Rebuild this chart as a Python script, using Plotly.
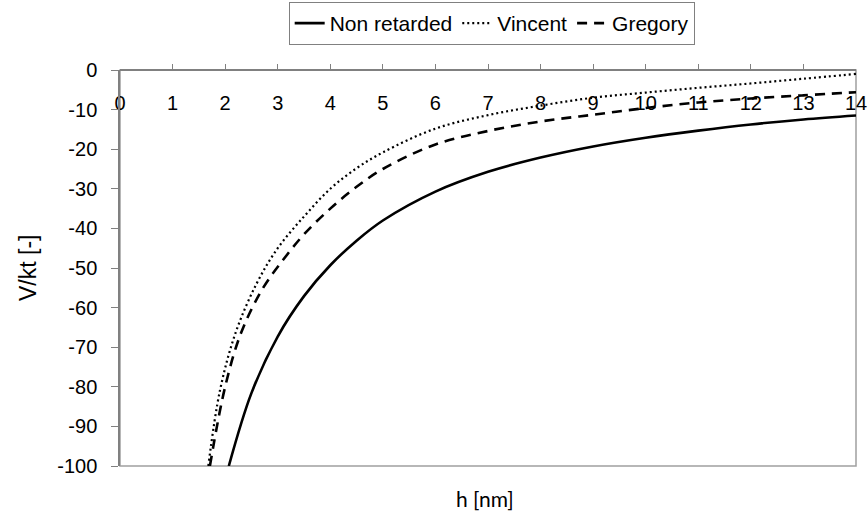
import plotly.graph_objects as go

# Data
h_nonret = [2.07, 2.5, 3.0, 3.5, 4.0, 4.5, 5.0, 6.0, 7.0, 8.0, 9.0, 10.0, 11.0, 12.0, 13.0, 14.0]
v_nonret = [-100, -81.6, -67.3, -57.1, -49.3, -43.1, -38.0, -30.7, -25.7, -22.1, -19.3, -17.1, -15.3, -13.75, -12.5, -11.5]

h_vincent = [1.68, 1.9, 2.2, 2.6, 3.0, 3.5, 4.0, 4.5, 5.0, 6.0, 7.0, 8.0, 9.0, 10.0, 11.0, 12.0, 13.0, 14.0]
v_vincent = [-100, -81, -66.3, -53.9, -45, -37, -30, -24.8, -20.8, -14.8, -11.4, -9.0, -7.0, -5.7, -4.5, -3.4, -2.2, -1.0]

h_gregory = [1.71, 2.0, 2.3, 2.7, 3.1, 3.5, 4.0, 4.5, 5.0, 6.0, 7.0, 8.0, 9.0, 10.0, 11.0, 12.0, 13.0, 14.0]
v_gregory = [-100, -80, -66.5, -55.5, -48, -41.5, -35, -29.5, -25, -18.8, -15.4, -13, -11.3, -9.6, -8.2, -7.2, -6.4, -5.6]

x_ticks = list(range(0, 15))
y_ticks = list(range(-100, 1, 10))

FONT = "Liberation Sans, Arial, sans-serif"

fig = go.Figure()
fig.add_trace(go.Scatter(x=h_nonret, y=v_nonret, mode="lines", name="Non retarded",
                         line=dict(color="black", width=2.6, shape="spline")))
fig.add_trace(go.Scatter(x=h_vincent, y=v_vincent, mode="lines", name="Vincent",
                         line=dict(color="black", width=2.2, dash="2px,3px", shape="spline")))
fig.add_trace(go.Scatter(x=h_gregory, y=v_gregory, mode="lines", name="Gregory",
                         line=dict(color="black", width=2.6, dash="10px,7px", shape="spline")))

fig.update_layout(
    width=868, height=523,
    margin=dict(l=120, r=12, t=70, b=57, autoexpand=False),
    paper_bgcolor="white", plot_bgcolor="white",
    font=dict(family=FONT, size=20, color="black"),
    showlegend=True,
    legend=dict(orientation="h", x=0.505, xanchor="center", y=1.1717, yanchor="top",
                bordercolor="#808080", borderwidth=1, font=dict(size=21),
                itemwidth=30, tracegroupgap=0),
    xaxis=dict(range=[0, 14], tickvals=x_ticks, ticktext=[str(v) for v in x_ticks],
               anchor="free", position=1, side="bottom",
               ticks="inside", ticklen=5, tickcolor="#808080", tickwidth=1,
               showline=True, linecolor="#808080", linewidth=1.5,
               showgrid=False, zeroline=False, ticklabelstandoff=15,
               layer="below traces",
               tickfont=dict(family=FONT, size=20, color="black")),
    yaxis=dict(range=[-100, 0], tickvals=y_ticks, ticktext=[str(v) for v in y_ticks],
               ticks="outside", ticklen=7, tickcolor="#808080", tickwidth=1,
               showline=True, linecolor="#808080", linewidth=1.5,
               showgrid=False, zeroline=False, ticklabelstandoff=10,
               tickfont=dict(family=FONT, size=20, color="black")),
    shapes=[dict(type="rect", xref="paper", yref="paper", x0=0, x1=1, y0=0, y1=1,
                 line=dict(color="#a0a0a0", width=1.5), layer="below")],
    annotations=[
        dict(text="V/kt [-]", xref="paper", yref="paper", x=(28 - 120) / 736, y=0.5,
             xanchor="center", yanchor="middle", textangle=-90, showarrow=False,
             font=dict(family=FONT, size=23, color="black")),
        dict(text="h [nm]", xref="paper", yref="paper", x=(485 - 120) / 736, y=-(498 - 466) / 396,
             xanchor="center", yanchor="middle", showarrow=False,
             font=dict(family="Lato, Carlito, sans-serif", size=21, color="black")),
    ],
)

fig.write_html("out.html")
